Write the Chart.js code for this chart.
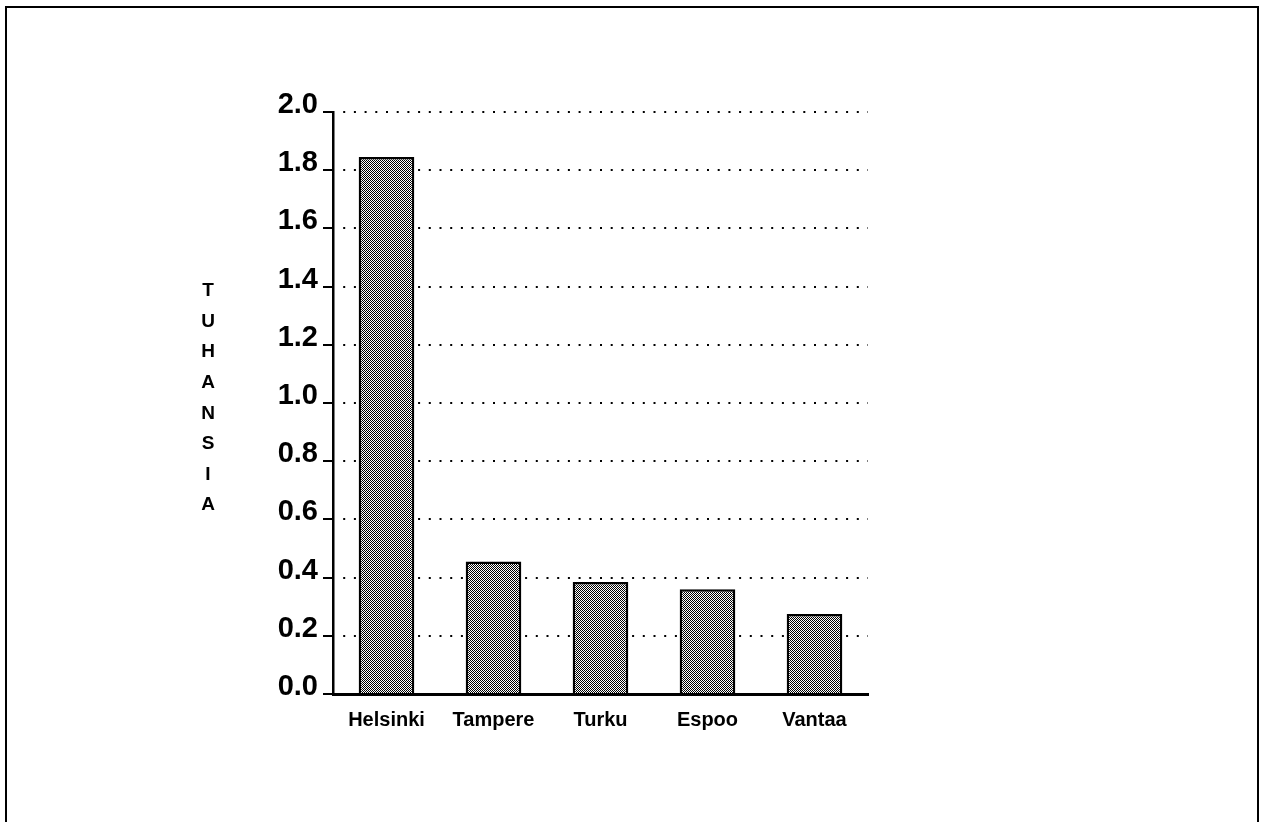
<!DOCTYPE html>
<html>
<head>
<meta charset="utf-8">
<script src="https://cdn.jsdelivr.net/npm/chart.js@4/dist/chart.umd.min.js"></script>
<style>
  body { margin: 0; background: #fff; overflow: hidden; }
  #wrap { position: relative; width: 1263px; height: 822px; }
  #frame {
    position: absolute; left: 5px; top: 6px; width: 1254px; height: 830px;
    border: 2px solid #000; box-sizing: border-box;
  }
  canvas { position: absolute; left: 0; top: 0; }
</style>
</head>
<body>
<div id="wrap">
  <div id="frame"></div>
  <canvas id="chart" width="1263" height="822"></canvas>
</div>
<script>
// data
const cities = ["Helsinki", "Tampere", "Turku", "Espoo", "Vantaa"];
const values = [1.845, 0.455, 0.385, 0.36, 0.275];
const yTickLabels = ["0.0", "0.2", "0.4", "0.6", "0.8", "1.0", "1.2", "1.4", "1.6", "1.8", "2.0"];
const yTitle = "TUHANSIA";

const FONT = "'Liberation Sans', Arial, Helvetica, sans-serif";

// stippled grey fill like the printed bars
function stipple() {
  const c = document.createElement("canvas");
  c.width = 2;
  c.height = 2;
  const g = c.getContext("2d");
  g.fillStyle = "#fff";
  g.fillRect(0, 0, 2, 2);
  g.fillStyle = "#000";
  g.fillRect(0, 0, 1, 1);
  g.fillRect(1, 1, 1, 1);
  return g.createPattern(c, "repeat");
}

// vertical stacked axis title
const stackedTitle = {
  id: "stackedTitle",
  afterDraw(chart) {
    const ctx = chart.ctx;
    ctx.save();
    ctx.fillStyle = "#000";
    ctx.font = "bold 19px " + FONT;
    ctx.textAlign = "center";
    ctx.textBaseline = "middle";
    const letters = yTitle.split("");
    letters.forEach((ch, i) => {
      ctx.fillText(ch, 208, 291 + i * 30.6);
    });
    ctx.restore();
  }
};

const ctx = document.getElementById("chart").getContext("2d");

new Chart(ctx, {
  type: "bar",
  data: {
    labels: cities,
    datasets: [
      {
        data: values,
        backgroundColor: stipple(),
        borderColor: "#000",
        borderWidth: 2.5,
        barPercentage: 0.52,
        categoryPercentage: 1
      }
    ]
  },
  plugins: [stackedTitle],
  options: {
    responsive: false,
    animation: false,
    layout: {
      padding: { left: 0, top: 112, right: 395, bottom: 78 }
    },
    plugins: {
      legend: { display: false },
      tooltip: { enabled: false }
    },
    scales: {
      x: {
        grid: { display: false, drawTicks: false },
        border: { display: true, color: "#000", width: 3 },
        ticks: {
          color: "#000",
          padding: 14,
          maxRotation: 0,
          font: { family: FONT, size: 20, weight: "bold" }
        },
        afterFit(scale) {
          scale.height = 50;
        }
      },
      y: {
        min: 0,
        max: 2,
        grid: {
          color: "#000",
          lineWidth: 2,
          tickColor: "#000",
          tickWidth: 2,
          tickLength: 10,
          tickBorderDash: []
        },
        border: { display: true, color: "#000", width: 2.5, dash: [2, 8.7], dashOffset: 2 },
        ticks: {
          stepSize: 0.2,
          color: "#000",
          padding: 5,
          labelOffset: -7,
          font: { family: FONT, size: 29, weight: "bold" },
          callback: (v, i) => yTickLabels[i]
        },
        afterFit(scale) {
          scale.width = 333;
        }
      }
    }
  }
});
</script>
</body>
</html>
